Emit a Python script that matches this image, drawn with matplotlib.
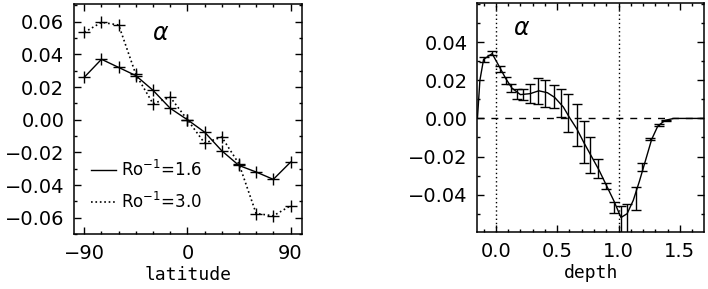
import numpy as np
import matplotlib
matplotlib.use('Agg')
import matplotlib.pyplot as plt
from matplotlib.ticker import MultipleLocator
from matplotlib.lines import Line2D

# left panel: alpha vs latitude
latitude = [-90, -75, -60, -45, -30, -15, 0, 15, 30, 45, 60, 75, 90]
alpha_ro16 = [0.026, 0.037, 0.032, 0.027, 0.018, 0.007, 0.0,
              -0.0076, -0.019, -0.028, -0.032, -0.0365, -0.026]
alpha_ro30 = [0.0535, 0.0596, 0.058, 0.0277, 0.0098, 0.0138, 0.0,
              -0.0143, -0.0106, -0.027, -0.0574, -0.0588, -0.0527]
legend_labels = [r'Ro$^{-1}$=1.6', r'Ro$^{-1}$=3.0']
lat_ticks = [-90, 0, 90]
lat_ticklabels = ['\u221290', '0', '90']
left_yticks = [-0.06, -0.04, -0.02, 0.0, 0.02, 0.04, 0.06]

# right panel: alpha vs depth
depth = [-0.15, -0.13, -0.10, -0.03, 0.03, 0.08, 0.13, 0.20, 0.28, 0.35,
         0.42, 0.48, 0.55, 0.60, 0.66, 0.72, 0.78, 0.84, 0.90, 0.96,
         1.02, 1.07, 1.12, 1.17, 1.22, 1.27, 1.32, 1.38, 1.45, 1.55, 1.70]
alpha_depth = [0.0, 0.02, 0.031, 0.034, 0.027, 0.021, 0.016, 0.0125, 0.013, 0.0145,
               0.0135, 0.011, 0.006, 0.0005, -0.0055, -0.013, -0.020, -0.027, -0.035, -0.043,
               -0.052, -0.050, -0.043, -0.033, -0.022, -0.011, -0.004, -0.001, 0.0, 0.0, 0.0]

bar_x = [-0.10, -0.03, 0.03, 0.08, 0.12, 0.17, 0.22, 0.28, 0.34, 0.40,
         0.47, 0.53, 0.59, 0.66, 0.72, 0.77, 0.83, 0.90, 0.96, 1.02,
         1.07, 1.14, 1.19, 1.26, 1.33, 1.39]
bar_y = [0.031, 0.0345, 0.026, 0.020, 0.016, 0.0128, 0.0125, 0.0133, 0.0142, 0.0131,
         0.0113, 0.0079, 0.0028, -0.0035, -0.0125, -0.0193, -0.0265, -0.0355, -0.0468, -0.056,
         -0.056, -0.042, -0.0255, -0.011, -0.0035, -0.001]
bar_err = [0.0012, 0.001, 0.0015, 0.002, 0.002, 0.0024, 0.0028, 0.005, 0.0068, 0.007,
           0.006, 0.0074, 0.0098, 0.011, 0.011, 0.0096, 0.005, 0.0015, 0.003, 0.01,
           0.011, 0.006, 0.002, 0.0005, 0.0005, 0.0003]
depth_ticks = [0.0, 0.5, 1.0, 1.5]
right_yticks = [-0.04, -0.02, 0.0, 0.02, 0.04]


def fmt(v):
    s = '%.2f' % abs(v)
    return ('\u2212' + s) if v < -1e-9 else s


plt.rcParams['font.family'] = 'DejaVu Sans'
fig = plt.figure(figsize=(7.08, 2.89), dpi=100)
ax2 = fig.add_axes([0.674, 0.196, 0.3206, 0.7924])
ax1 = fig.add_axes([0.1045, 0.190, 0.322, 0.796])
ax1.set_zorder(3)
ax2.patch.set_visible(False)

for ax in (ax1, ax2):
    ax.tick_params(which='both', direction='in', top=True, right=True,
                   labelsize=14, width=1)
    ax.tick_params(which='major', length=5, pad=7)
    ax.tick_params(which='minor', length=2.5)
    for s in ax.spines.values():
        s.set_linewidth(1.1)

ax1.plot(latitude, alpha_ro16, '-', color='black', lw=1, marker='+', ms=8, mew=1)
ax1.plot(latitude, alpha_ro30, ':', color='black', lw=1.2, marker='+', ms=8, mew=1)
ax1.set_xlim(-99, 100)
ax1.set_ylim(-0.07, 0.0708)
ax1.set_xticks(lat_ticks, labels=lat_ticklabels)
ax1.xaxis.set_minor_locator(MultipleLocator(15))
ax1.set_yticks(left_yticks, labels=[fmt(v) for v in left_yticks])
ax1.yaxis.set_minor_locator(MultipleLocator(0.01))
ax1.set_xlabel('latitude', family='DejaVu Sans Mono', fontsize=13, labelpad=2)
ax1.text(0.38, 0.874, r'$\alpha$', transform=ax1.transAxes, fontsize=17,
         ha='center', va='center')
handles = [Line2D([], [], color='black', lw=1, ls='-'),
           Line2D([], [], color='black', lw=1.2, ls=':')]
ax1.legend(handles, legend_labels, loc='upper left', bbox_to_anchor=(0.04, 0.36),
           frameon=False, fontsize=12, handlelength=1.5, handletextpad=0.3,
           labelspacing=0.75, borderpad=0)

ax2.plot(depth, alpha_depth, '-', color='black', lw=1)
ax2.errorbar(bar_x, bar_y, yerr=bar_err, fmt='none', ecolor='black',
             elinewidth=1, capsize=3.5, capthick=1)
ax2.axhline(0, color='black', lw=1, ls=(0, (5, 5)))
ax2.axvline(0, color='black', lw=1, ls=(0, (1, 2)))
ax2.axvline(1, color='black', lw=1, ls=(0, (1, 2)))
ax2.set_xlim(-0.152, 1.698)
ax2.set_ylim(-0.0598, 0.0604)
ax2.set_xticks(depth_ticks, labels=['%.1f' % v for v in depth_ticks])
ax2.xaxis.set_minor_locator(MultipleLocator(0.1))
ax2.set_yticks(right_yticks, labels=[fmt(v) for v in right_yticks])
ax2.yaxis.set_minor_locator(MultipleLocator(0.01))
ax2.set_xlabel('depth', family='DejaVu Sans Mono', fontsize=13, labelpad=2)
ax2.text(0.197, 0.894, r'$\alpha$', transform=ax2.transAxes, fontsize=17,
         ha='center', va='center')

fig.savefig('out.png', dpi=100)
